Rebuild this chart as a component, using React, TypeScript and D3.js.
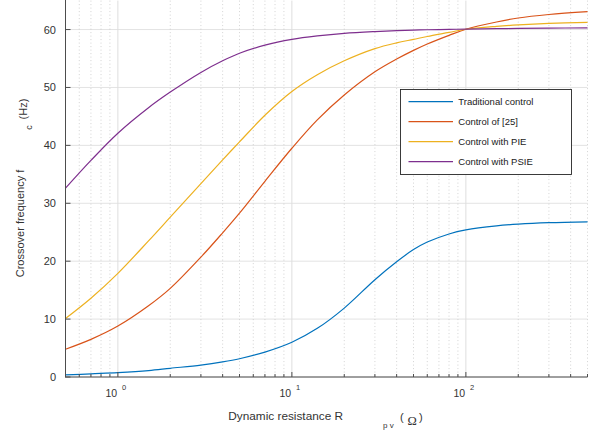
import React from 'react';
import * as d3 from 'd3';

// Dynamic resistance R_pv (Ohm)
const resistance = [0.5, 0.7, 1, 1.5, 2, 3, 4, 5, 7, 10, 14, 20, 30, 40, 50, 60, 80, 100, 150, 200, 300, 500];
// Crossover frequency f_c (Hz)
const traditional = [0.35, 0.55, 0.75, 1.1, 1.5, 2.05, 2.6, 3.15, 4.3, 6.0, 8.4, 11.9, 16.8, 19.9, 22.0, 23.3, 24.7, 25.4, 26.1, 26.4, 26.65, 26.8];
const control25 = [4.8, 6.5, 8.8, 12.3, 15.3, 20.7, 24.9, 28.3, 33.8, 39.5, 44.4, 48.7, 52.7, 54.9, 56.4, 57.5, 59.0, 60.05, 61.3, 62.0, 62.6, 63.1];
const controlPIE = [10.1, 13.6, 17.9, 23.5, 27.6, 33.4, 37.5, 40.6, 45.2, 49.3, 52.2, 54.6, 56.7, 57.7, 58.3, 58.8, 59.5, 60.05, 60.55, 60.8, 61.05, 61.25];
const controlPSIE = [32.6, 37.4, 42.1, 46.5, 49.2, 52.6, 54.6, 55.9, 57.3, 58.3, 58.9, 59.35, 59.65, 59.8, 59.9, 59.97, 60.03, 60.08, 60.15, 60.2, 60.25, 60.3];

const seriesNames = ['Traditional control', 'Control of [25]', 'Control with PIE', 'Control with PSIE'];
const seriesValues = [traditional, control25, controlPIE, controlPSIE];
const seriesColors = ['#0072BD', '#D95319', '#EDB120', '#7E2F8E'];

const yTicks = [0, 10, 20, 30, 40, 50, 60];
const xMajor = [1, 10, 100];
const xMajorExp = ['0', '1', '2'];

const FONT = '"Liberation Sans", Arial, Helvetica, sans-serif';

export default function App() {
  const W = 600, H = 433;
  const left = 65.5, right = 587.5, top = 0.6, bottom = 377;
  const x = d3.scaleLog().domain([0.5, 500]).range([left, right]);
  const y = d3.scaleLinear().domain([0, 65]).range([bottom, top]);
  const line = d3.line<number>()
    .x((_, i) => x(resistance[i]))
    .y((d) => y(d))
    .curve(d3.curveCatmullRom.alpha(0.5));

  const allTicks = x.ticks();
  const minor = allTicks.filter((t) => !xMajor.some((m) => Math.abs(m - t) < 1e-9));

  const legX = 400.5, legY = 89.5, legW = 171, legH = 85;
  const rowY = [101.7, 121.7, 141.7, 161.7];

  return (
    <div style={{ position: 'absolute', left: 0, top: 0 }}>
      <svg width={W} height={H} style={{ display: 'block', background: '#fff' }} fontFamily={FONT}>
        {/* horizontal grid */}
        {yTicks.map((t) => (
          <line key={'hg' + t} x1={left} x2={right} y1={y(t)} y2={y(t)} stroke="#e3e3e3" strokeWidth={1} />
        ))}
        {/* minor vertical grid */}
        {minor.map((t) => (
          <line key={'mg' + t} x1={x(t)} x2={x(t)} y1={top} y2={bottom} stroke="#c8c8c8" strokeWidth={0.8} strokeDasharray="1,2.5" />
        ))}
        {/* major vertical grid */}
        {xMajor.map((t) => (
          <line key={'vg' + t} x1={x(t)} x2={x(t)} y1={top} y2={bottom} stroke="#dedede" strokeWidth={1} />
        ))}

        {/* curves */}
        {seriesValues.map((vals, i) => (
          <path key={'s' + i} d={line(vals) || ''} fill="none" stroke={seriesColors[i]} strokeWidth={1.2} />
        ))}

        {/* axes */}
        <line x1={left} x2={left} y1={0} y2={bottom + 0.5} stroke="#4d4d4d" strokeWidth={1} />
        <line x1={left} x2={right} y1={bottom} y2={bottom} stroke="#4d4d4d" strokeWidth={1} />
        {yTicks.map((t) => (
          <g key={'yt' + t}>
            <line x1={left} x2={left + 5} y1={y(t)} y2={y(t)} stroke="#4d4d4d" strokeWidth={1} />
            <text x={56} y={y(t) + 4} textAnchor="end" fontSize={11} fill="#333">{t}</text>
          </g>
        ))}
        {minor.map((t) => (
          <line key={'mt' + t} x1={x(t)} x2={x(t)} y1={bottom} y2={bottom - 3} stroke="#4d4d4d" strokeWidth={1} />
        ))}
        {xMajor.map((t, i) => (
          <g key={'xt' + t}>
            <line x1={x(t)} x2={x(t)} y1={bottom} y2={bottom - 5} stroke="#4d4d4d" strokeWidth={1} />
            <text x={x(t) - 0.8} y={396.5} textAnchor="end" fontSize={10.5} fill="#333">10</text>
            <text x={x(t) + 4} y={390} textAnchor="start" fontSize={7.5} fill="#333">{xMajorExp[i]}</text>
          </g>
        ))}

        {/* y label */}
        <text transform="translate(24,223.5) rotate(-90)" textAnchor="middle" fontSize={11} fill="#333">Crossover frequency f</text>
        <text transform="translate(31.5,127.5) rotate(-90)" textAnchor="middle" fontSize={9} fill="#333">c</text>
        <text transform="translate(26.5,109) rotate(-90)" textAnchor="middle" fontSize={11} fill="#333">(Hz)</text>

        {/* x label */}
        <text x={228.3} y={420} textAnchor="start" fontSize={11.8} fill="#333">Dynamic resistance R</text>
        <text x={383} y={428} textAnchor="start" fontSize={8} fill="#333">p v</text>
        <text x={400} y={421} textAnchor="start" fontSize={11} fill="#333">(</text>
        <text x={407.5} y={425} textAnchor="start" fontSize={12.5} fill="#333" fontFamily='"Liberation Serif", "DejaVu Serif", serif'>Ω</text>
        <text x={419} y={421} textAnchor="start" fontSize={11} fill="#333">)</text>

        {/* legend */}
        <rect x={legX} y={legY} width={legW} height={legH} fill="#fff" stroke="#262626" strokeWidth={0.9} />
        {seriesNames.map((n, i) => (
          <g key={'lg' + i}>
            <line x1={408.5} x2={453} y1={rowY[i]} y2={rowY[i]} stroke={seriesColors[i]} strokeWidth={1.2} />
            <text x={458.3} y={rowY[i] + 3.5} fontSize={9.5} fill="#1a1a1a">{n}</text>
          </g>
        ))}
      </svg>
    </div>
  );
}
